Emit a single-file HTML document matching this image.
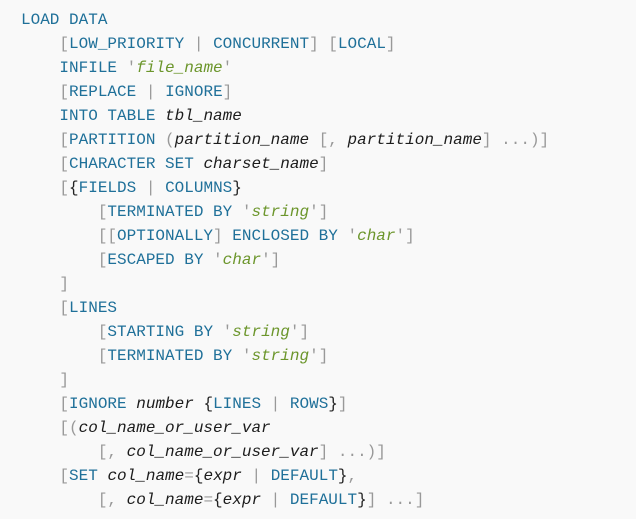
<!DOCTYPE html>
<html>
<head>
<meta charset="utf-8">
<style>
html,body{margin:0;padding:0;background:#f9f9f9;width:636px;height:519px;overflow:hidden}
pre{position:absolute;left:21px;top:8px;margin:0;font:16px/24px "Liberation Mono",monospace;color:#222;white-space:pre;filter:blur(.3px)}
b{font-weight:normal;color:#1f7099}
u{text-decoration:none;color:#999}
i{font-style:italic;color:#1c1c1c}
s{text-decoration:none;font-style:italic;color:#6c962c}
</style>
</head>
<body>
<pre><b>LOAD DATA</b>
    <u>[</u><b>LOW_PRIORITY</b> <u>|</u> <b>CONCURRENT</b><u>]</u> <u>[</u><b>LOCAL</b><u>]</u>
    <b>INFILE</b> <u>'</u><s>file_name</s><u>'</u>
    <u>[</u><b>REPLACE</b> <u>|</u> <b>IGNORE</b><u>]</u>
    <b>INTO TABLE</b> <i>tbl_name</i>
    <u>[</u><b>PARTITION</b> <u>(</u><i>partition_name</i> <u>[,</u> <i>partition_name</i><u>]</u> <u>...)]</u>
    <u>[</u><b>CHARACTER SET</b> <i>charset_name</i><u>]</u>
    <u>[</u>{<b>FIELDS</b> <u>|</u> <b>COLUMNS</b>}
        <u>[</u><b>TERMINATED BY</b> <u>'</u><s>string</s><u>'</u><u>]</u>
        <u>[[</u><b>OPTIONALLY</b><u>]</u> <b>ENCLOSED BY</b> <u>'</u><s>char</s><u>'</u><u>]</u>
        <u>[</u><b>ESCAPED BY</b> <u>'</u><s>char</s><u>'</u><u>]</u>
    <u>]</u>
    <u>[</u><b>LINES</b>
        <u>[</u><b>STARTING BY</b> <u>'</u><s>string</s><u>'</u><u>]</u>
        <u>[</u><b>TERMINATED BY</b> <u>'</u><s>string</s><u>'</u><u>]</u>
    <u>]</u>
    <u>[</u><b>IGNORE</b> <i>number</i> {<b>LINES</b> <u>|</u> <b>ROWS</b>}<u>]</u>
    <u>[(</u><i>col_name_or_user_var</i>
        <u>[,</u> <i>col_name_or_user_var</i><u>]</u> <u>...)]</u>
    <u>[</u><b>SET</b> <i>col_name</i><u>=</u>{<i>expr</i> <u>|</u> <b>DEFAULT</b>}<u>,</u>
        <u>[,</u> <i>col_name</i><u>=</u>{<i>expr</i> <u>|</u> <b>DEFAULT</b>}<u>]</u> <u>...]</u></pre>
</body>
</html>
